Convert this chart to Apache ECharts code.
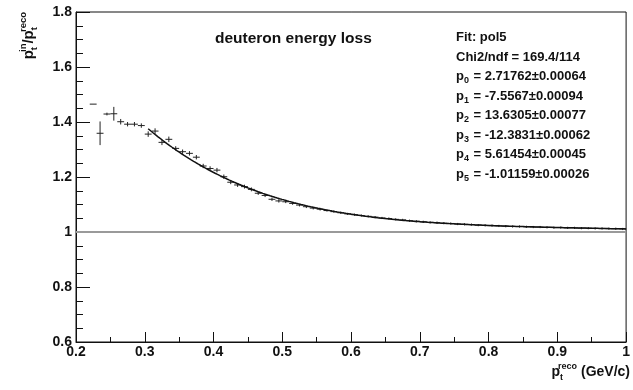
<!DOCTYPE html>
<html>
<head>
<meta charset="utf-8">
<script src="https://cdn.jsdelivr.net/npm/echarts@6/dist/echarts.min.js"></script>
<style>
html, body { margin: 0; padding: 0; background: #fff; }
#chart { width: 633px; height: 390px; }
</style>
</head>
<body>
<div id="chart"></div>
<script>
// Ratio of generated to reconstructed transverse momentum, per p_t^reco bin
const binCenters = [
  0.225, 0.235, 0.245, 0.255, 0.265, 0.275, 0.285, 0.295, 0.305, 0.315,
  0.325, 0.335, 0.345, 0.355, 0.365, 0.375, 0.385, 0.395, 0.405, 0.415,
  0.425, 0.435, 0.445, 0.455, 0.465, 0.475, 0.485, 0.495, 0.505, 0.515,
  0.525, 0.535, 0.545, 0.555, 0.565, 0.575, 0.585, 0.595, 0.605, 0.615,
  0.625, 0.635, 0.645, 0.655, 0.665, 0.675, 0.685, 0.695, 0.705, 0.715,
  0.725, 0.735, 0.745, 0.755, 0.765, 0.775, 0.785, 0.795, 0.805, 0.815,
  0.825, 0.835, 0.845, 0.855, 0.865, 0.875, 0.885, 0.895, 0.905, 0.915,
  0.925, 0.935, 0.945, 0.955, 0.965, 0.975, 0.985, 0.995
];
const ratio = [
  1.465, 1.359, 1.429, 1.430, 1.401, 1.392, 1.392, 1.387, 1.356, 1.367,
  1.326, 1.337, 1.304, 1.292, 1.286, 1.272, 1.240, 1.231, 1.225, 1.201,
  1.181, 1.171, 1.165, 1.155, 1.141, 1.133, 1.119, 1.113, 1.110, 1.104,
  1.098, 1.092, 1.087, 1.083, 1.078, 1.074, 1.070, 1.066, 1.063, 1.060,
  1.057, 1.054, 1.051, 1.049, 1.046, 1.044, 1.041, 1.039, 1.037, 1.035,
  1.034, 1.032, 1.031, 1.029, 1.028, 1.027, 1.025, 1.024, 1.023, 1.022,
  1.021, 1.020, 1.020, 1.019, 1.018, 1.018, 1.017, 1.016, 1.016, 1.015,
  1.015, 1.014, 1.014, 1.013, 1.013, 1.012, 1.012, 1.011
];
const ratioErr = [
  0.000, 0.043, 0.005, 0.025, 0.010, 0.008, 0.008, 0.008, 0.010, 0.010,
  0.010, 0.010, 0.008, 0.008, 0.008, 0.008, 0.008, 0.008, 0.008, 0.008,
  0.007, 0.007, 0.007, 0.007, 0.006, 0.006, 0.006, 0.006, 0.005, 0.005,
  0.005, 0.005, 0.005, 0.005, 0.004, 0.004, 0.004, 0.004, 0.004, 0.004,
  0.004, 0.004, 0.004, 0.004, 0.004, 0.004, 0.004, 0.004, 0.004, 0.004,
  0.004, 0.004, 0.004, 0.004, 0.004, 0.004, 0.004, 0.004, 0.004, 0.004,
  0.004, 0.004, 0.004, 0.004, 0.004, 0.004, 0.004, 0.004, 0.004, 0.004,
  0.004, 0.004, 0.004, 0.004, 0.004, 0.004, 0.004, 0.004
];
const binHalfWidth = 0.005;

// pol5 fit result
const fitParams = [2.71762, -7.5567, 13.6305, -12.3831, 5.61454, -1.01159];
const fitErrors = [0.00064, 0.00094, 0.00077, 0.00062, 0.00045, 0.00026];
const fitRange = [0.305, 1.0];
const chi2 = '169.4';
const ndf = '114';

// unit-ratio reference line
const unityLine = [[0.2, 1], [1.0, 1]];

const xAxisTicks = { min: 0.2, max: 1.0, interval: 0.1 };
const yAxisTicks = { min: 0.6, max: 1.8, interval: 0.2 };

function pol5(x) {
  let v = 0;
  for (let i = fitParams.length - 1; i >= 0; i--) v = v * x + fitParams[i];
  return v;
}
const fitCurve = [];
for (let k = 0; k <= 200; k++) {
  const x = fitRange[0] + (fitRange[1] - fitRange[0]) * k / 200;
  fitCurve.push([x, pol5(x)]);
}

const points = binCenters.map((x, i) => [x, ratio[i], ratioErr[i]]);

const FONT = 'Liberation Sans, Arial, Helvetica, sans-serif';
const INK = '#111';

const chart = echarts.init(document.getElementById('chart'), null, { renderer: 'canvas' });

const statLines = [
  { text: 'Fit: pol5' },
  { text: 'Chi2/ndf = ' + chi2 + '/' + ndf }
];
fitParams.forEach((p, i) => {
  statLines.push({ text: '{m|p}{s|' + i + '}{m| = ' + p + '±' + fitErrors[i].toFixed(5) + '}' });
});

const subRich = {
  m: { font: 'bold 13px ' + FONT, fill: INK, lineHeight: 18, verticalAlign: 'middle' },
  s: { font: 'bold 9px ' + FONT, fill: INK, lineHeight: 9, verticalAlign: 'bottom', padding: [0, 1, 0, 0] }
};

const graphics = [];
graphics.push({
  type: 'text', left: 215, top: 31,
  style: { text: 'deuteron energy loss', font: 'bold 15.5px ' + FONT, fill: INK }
});
statLines.forEach((ln, i) => {
  graphics.push({
    type: 'text', left: 456, top: 31 + i * 19.5,
    style: { text: ln.text, font: 'bold 13px ' + FONT, fill: INK, rich: subRich }
  });
});
// axis titles
const titleRich = {
  m: { font: 'bold 14px ' + FONT, fill: INK, lineHeight: 20, verticalAlign: 'middle' },
  ss: { font: 'bold 9px ' + FONT, fill: INK, lineHeight: 9, verticalAlign: 'bottom' },
  sp: { font: 'bold 9px ' + FONT, fill: INK, lineHeight: 9, verticalAlign: 'top', padding: [0, 0, 0, -5] }
};
const yTitleRich = {
  m: { font: 'bold 15px ' + FONT, fill: INK, lineHeight: 21, verticalAlign: 'middle' },
  ss: { font: 'bold 9.5px ' + FONT, fill: INK, lineHeight: 9, verticalAlign: 'bottom' },
  sp: { font: 'bold 9.5px ' + FONT, fill: INK, lineHeight: 9, verticalAlign: 'top', padding: [0, 0, 0, -5] }
};
graphics.push({
  type: 'text', right: 3, top: 362,
  style: { text: '{m|p}{ss|t}{sp|reco}{m| (GeV/c)}', rich: titleRich }
});
graphics.push({
  type: 'text', x: 29, y: 12, rotation: Math.PI / 2,
  style: {
    text: '{m|p}{ss|t}{sp|in}{m|/p}{ss|t}{sp|reco}',
    align: 'right', verticalAlign: 'middle', rich: yTitleRich
  }
});

chart.setOption({
  animation: false,
  backgroundColor: '#fff',
  grid: {
    left: 76, right: 1, top: 12, bottom: 48,
    show: true, borderColor: INK, borderWidth: 1, backgroundColor: 'transparent'
  },
  xAxis: {
    type: 'value',
    min: xAxisTicks.min, max: xAxisTicks.max, interval: xAxisTicks.interval,
    axisLine: { show: true, lineStyle: { color: INK, width: 1 } },
    axisTick: { show: true, inside: true, length: 10, lineStyle: { color: INK } },
    minorTick: { show: true, splitNumber: 2, length: 5, lineStyle: { color: INK } },
    splitLine: { show: false },
    axisLabel: { color: INK, fontWeight: 'bold', fontSize: 14, fontFamily: FONT, margin: 3 }
  },
  yAxis: {
    type: 'value',
    min: yAxisTicks.min, max: yAxisTicks.max, interval: yAxisTicks.interval,
    axisLine: { show: true, lineStyle: { color: INK, width: 1 } },
    axisTick: { show: true, inside: true, length: 14, lineStyle: { color: INK } },
    minorTick: { show: true, splitNumber: 4, length: 7, lineStyle: { color: INK } },
    splitLine: { show: false },
    axisLabel: { color: INK, fontWeight: 'bold', fontSize: 14, fontFamily: FONT, margin: 4 }
  },
  graphic: graphics,
  series: [
    {
      type: 'line', data: unityLine, symbol: 'none', silent: true,
      lineStyle: { color: '#9a9a9a', width: 2 }, z: 1
    },
    {
      type: 'custom', data: points, z: 3,
      renderItem(params, api) {
        const x = api.value(0), y = api.value(1), e = api.value(2);
        const l = api.coord([x - binHalfWidth, y]);
        const r = api.coord([x + binHalfWidth, y]);
        const t = api.coord([x, y + e]);
        const b = api.coord([x, y - e]);
        const children = [
          { type: 'line', shape: { x1: l[0], y1: l[1], x2: r[0], y2: r[1] }, style: { stroke: '#222', lineWidth: 1 } }
        ];
        if (e > 0) {
          children.push({ type: 'line', shape: { x1: t[0], y1: t[1], x2: b[0], y2: b[1] }, style: { stroke: '#222', lineWidth: 1 } });
        }
        return { type: 'group', children };
      }
    },
    {
      type: 'line', data: fitCurve, symbol: 'none', smooth: false, z: 4,
      lineStyle: { color: INK, width: 1.5 }
    }
  ]
});
</script>
</body>
</html>
